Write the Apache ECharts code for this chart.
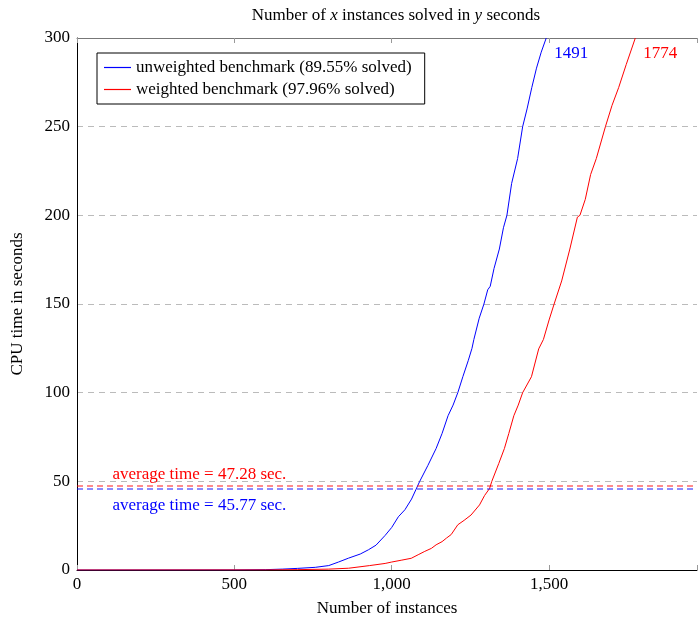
<!DOCTYPE html>
<html>
<head>
<meta charset="utf-8">
<script src="https://cdn.jsdelivr.net/npm/echarts@6/dist/echarts.min.js"></script>
<style>html,body{margin:0;padding:0;background:#fff}#c{width:700px;height:622px}</style>
</head>
<body>
<div id="c"></div>
<script>
// ---- data ----
const xTicks = [0, 500, 1000, 1500];
const yTicks = [0, 50, 100, 150, 200, 250, 300];
const unweighted = [[0,0],[500,0.05],[600,0.2],[652,0.5],[700,0.9],[757,1.5],[800,2.5],[831,4.5],[863,6.7],[900,9],[926,11.4],[950,14],[979,19.5],[1000,24],[1021,30],[1042,34],[1063,40],[1089,50],[1115,59],[1141,68.5],[1160,77],[1179,87],[1195,93],[1210,100],[1226,109],[1243,118],[1255,125],[1261,130],[1278,142],[1293,150],[1305,158],[1313,160],[1325,170],[1342,181],[1355,193],[1366,200],[1381,218],[1400,232],[1416,250],[1430,260],[1445,272],[1460,283],[1475,292],[1491,300]];
const weighted = [[0,0],[600,0.05],[700,0.2],[800,0.5],[863,1],[930,2.5],[979,3.7],[1000,4.5],[1030,5.5],[1062,6.6],[1084,8.6],[1105,10.5],[1126,12.2],[1141,14.2],[1160,16],[1174,18],[1189,20],[1210,25.5],[1230,28],[1252,31],[1279,36.7],[1295,42],[1311,46],[1318,50],[1340,60],[1358,68.5],[1372,77],[1388,87],[1402,93],[1416,100],[1444,109],[1467,124.7],[1482,130],[1500,141],[1516,150],[1540,163],[1566,181],[1590,199],[1598,200],[1615,209],[1632,223],[1650,232],[1679,250],[1700,262],[1721,272],[1745,285],[1774,300]];
const seriesNames = ['unweighted benchmark (89.55% solved)', 'weighted benchmark (97.96% solved)'];
const avgTimes = [45.77, 47.28];
const solvedCounts = [1491, 1774];
const xMax = 1970, yMax = 300;

const FONT = '"Liberation Serif", "DejaVu Serif", serif';
const BLUE = '#0000ff', RED = '#ff0000';

function fmt(v) {
  if (xTicks.indexOf(v) < 0) return '';
  return String(v).replace(/\B(?=(\d{3})+(?!\d))/g, ',');
}

const chart = echarts.init(document.getElementById('c'));
chart.setOption({
  animation: false,
  textStyle: { fontFamily: FONT },
  title: {
    text: 'Number of {i|x} instances solved in {i|y} seconds',
    left: 391, top: 2, textAlign: 'center',
    textStyle: {
      fontFamily: FONT, fontSize: 17, fontWeight: 'normal', color: '#000',
      rich: { i: { fontFamily: FONT, fontStyle: 'italic', fontSize: 17 } }
    }
  },
  legend: {
    orient: 'vertical', left: 97, top: 53,
    backgroundColor: '#fff', borderColor: '#000', borderWidth: 1,
    padding: [6, 13, 6, 7], itemGap: 5, itemWidth: 27, itemHeight: 1.2,
    icon: 'rect',
    textStyle: { fontFamily: FONT, fontSize: 17, color: '#000' },
    data: seriesNames
  },
  grid: { left: 77, right: 0, top: 38, bottom: 48, containLabel: false },
  xAxis: [{
    type: 'value', min: 0, max: xMax, interval: 500,
    name: 'Number of instances', nameLocation: 'middle', nameGap: 30,
    nameTextStyle: { fontFamily: FONT, fontSize: 17, color: '#000' },
    axisLine: { show: true, lineStyle: { color: '#000', width: 1 } },
    axisTick: { show: true, inside: true, length: 5, lineStyle: { color: '#999' } },
    axisLabel: { fontFamily: FONT, fontSize: 17, color: '#000', margin: 6, formatter: fmt },
    splitLine: { show: false }
  }, {
    type: 'value', min: 0, max: xMax, interval: 500, position: 'top',
    axisLine: { show: true, lineStyle: { color: '#777', width: 1 } },
    axisTick: { show: true, inside: true, length: 5, lineStyle: { color: '#999' } },
    axisLabel: { show: false },
    splitLine: { show: false }
  }],
  yAxis: {
    type: 'value', min: 0, max: yMax, interval: 50,
    name: 'CPU time in seconds', nameLocation: 'middle', nameGap: 51, nameRotate: 90,
    nameTextStyle: { fontFamily: FONT, fontSize: 17, color: '#000' },
    axisLine: { show: true, lineStyle: { color: '#000', width: 1 } },
    axisTick: { show: false },
    axisLabel: { fontFamily: FONT, fontSize: 17, color: '#000', margin: 7,
      formatter: v => (yTicks.indexOf(v) >= 0 ? String(v) : '') },
    splitLine: { show: true, lineStyle: { color: '#bbb', type: [6, 5], width: 1 } }
  },
  series: [0, 1].map(i => ({
    name: seriesNames[i],
    type: 'line',
    xAxisIndex: 0,
    data: i === 0 ? unweighted : weighted,
    symbol: 'none', smooth: false,
    lineStyle: { color: i === 0 ? BLUE : RED, width: 1 },
    itemStyle: { color: i === 0 ? BLUE : RED },
    z: 3,
    markLine: {
      silent: true, symbol: 'none',
      lineStyle: { color: i === 0 ? BLUE : RED, type: [6, 4], width: 1.5, opacity: 0.6 },
      label: { show: false },
      data: [{ yAxis: avgTimes[i] }]
    },
    markPoint: {
      silent: true, symbol: 'circle', symbolSize: 0,
      data: [{
        coord: [389, avgTimes[i]],
        label: {
          show: true, formatter: 'average time = ' + avgTimes[i].toFixed(2) + ' sec.',
          fontFamily: FONT, fontSize: 17, color: i === 0 ? BLUE : RED,
          offset: [0, i === 0 ? 17 : -12]
        }
      }, {
        coord: [solvedCounts[i], yMax],
        label: {
          show: true, formatter: String(solvedCounts[i]),
          fontFamily: FONT, fontSize: 17, color: i === 0 ? BLUE : RED,
          offset: [25, 16]
        }
      }]
    }
  }))
});
</script>
</body>
</html>
